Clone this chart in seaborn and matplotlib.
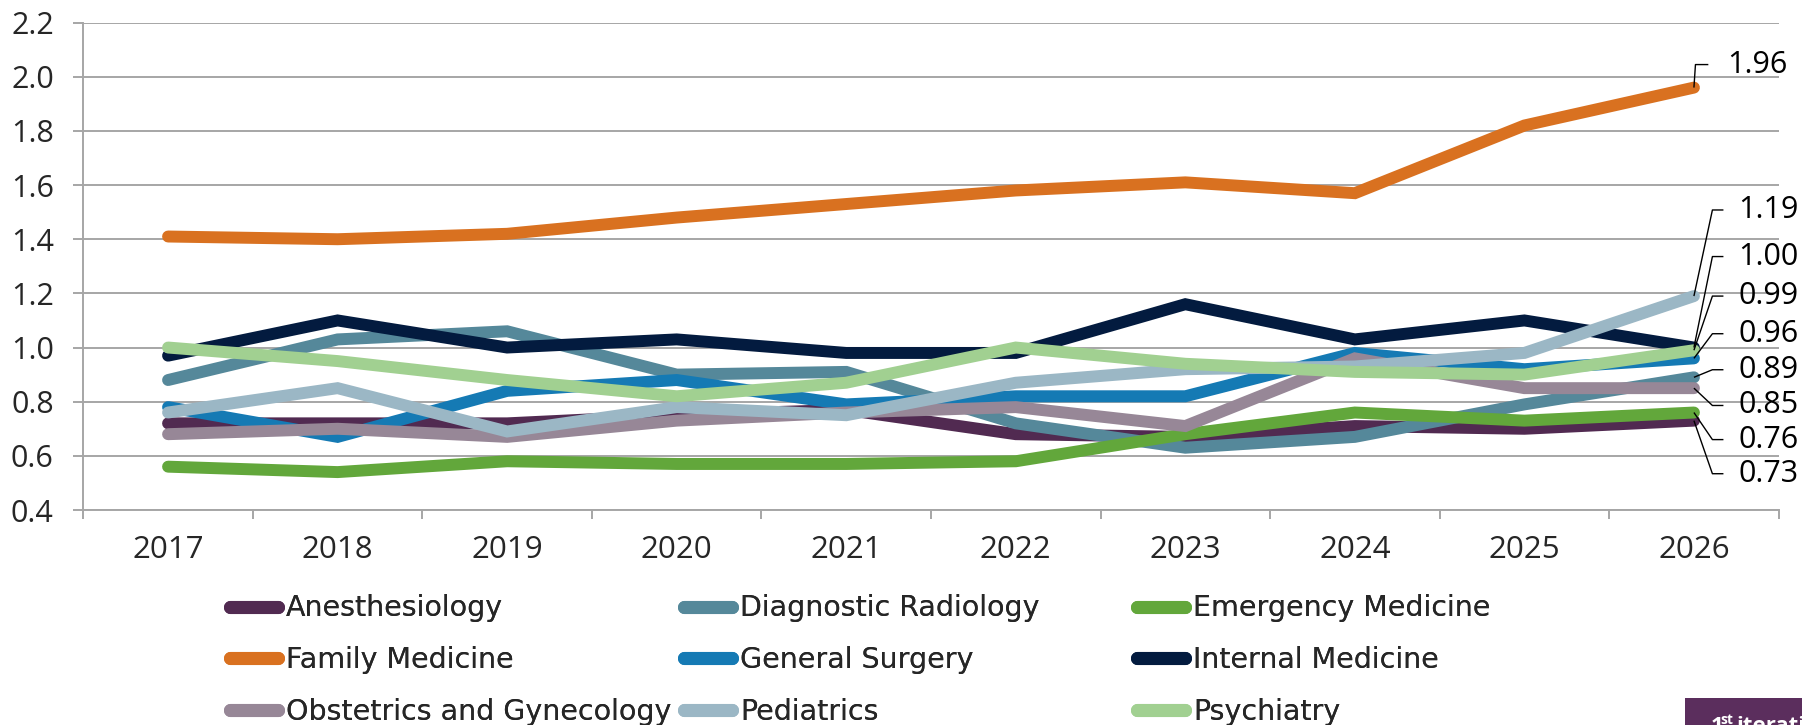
import matplotlib
matplotlib.use("Agg")
import matplotlib.pyplot as plt
import seaborn as sns
import pandas as pd
from matplotlib.lines import Line2D
from matplotlib.patches import Rectangle
from matplotlib.ticker import FixedLocator

# ---------------- data ----------------
years = [2017, 2018, 2019, 2020, 2021, 2022, 2023, 2024, 2025, 2026]
specialties = ["Anesthesiology", "Diagnostic Radiology", "Emergency Medicine",
               "Family Medicine", "General Surgery", "Internal Medicine",
               "Obstetrics and Gynecology", "Pediatrics", "Psychiatry"]
anesthesiology = [0.72, 0.72, 0.72, 0.75, 0.77, 0.68, 0.67, 0.71, 0.70, 0.73]
diagnostic_radiology = [0.88, 1.03, 1.06, 0.90, 0.91, 0.72, 0.63, 0.67, 0.79, 0.89]
emergency_medicine = [0.56, 0.54, 0.58, 0.57, 0.57, 0.58, 0.68, 0.76, 0.73, 0.76]
family_medicine = [1.41, 1.40, 1.42, 1.48, 1.53, 1.58, 1.61, 1.57, 1.82, 1.96]
general_surgery = [0.78, 0.67, 0.84, 0.88, 0.79, 0.82, 0.82, 0.98, 0.92, 0.96]
internal_medicine = [0.97, 1.10, 1.00, 1.03, 0.98, 0.98, 1.16, 1.03, 1.10, 1.00]
obstetrics_gynecology = [0.68, 0.70, 0.67, 0.73, 0.76, 0.78, 0.71, 0.96, 0.85, 0.85]
pediatrics = [0.76, 0.85, 0.69, 0.78, 0.75, 0.87, 0.92, 0.93, 0.98, 1.19]
psychiatry = [1.00, 0.95, 0.88, 0.82, 0.87, 1.00, 0.94, 0.91, 0.90, 0.99]
series = [anesthesiology, diagnostic_radiology, emergency_medicine, family_medicine,
          general_surgery, internal_medicine, obstetrics_gynecology, pediatrics, psychiatry]
colors = ["#512a51", "#55889a", "#62a73b", "#d97120", "#157ab4",
          "#031b3f", "#978797", "#9bb7c5", "#a1d091"]
y_ticks = [0.4, 0.6, 0.8, 1.0, 1.2, 1.4, 1.6, 1.8, 2.0, 2.2]

# end-label layout (top to bottom) and label heights
label_order = ["Family Medicine", "Pediatrics", "Internal Medicine", "Psychiatry",
               "General Surgery", "Diagnostic Radiology", "Obstetrics and Gynecology",
               "Emergency Medicine", "Anesthesiology"]
label_y = [2.045, 1.508, 1.336, 1.19, 1.051, 0.918, 0.786, 0.66, 0.534]

# ---------------- style ----------------
sns.set_style("white")
plt.rcParams["font.family"] = ["Open Sans", "DejaVu Sans"]
GRID = "#a6a6a6"

W, H = 1802, 725
fig = plt.figure(figsize=(W / 100, H / 100), dpi=100)
ax = fig.add_axes([83.3 / W, 1 - 510 / H, (1778.7 - 83.3) / W, (510 - 22.6) / H])

rows = []
for name, vals in zip(specialties, series):
    for yr, v in zip(years, vals):
        rows.append({"year": yr, "value": v, "specialty": name})
df = pd.DataFrame(rows)

palette = dict(zip(specialties, colors))
sns.lineplot(data=df, x="year", y="value", hue="specialty", hue_order=specialties,
             palette=palette, linewidth=8.6, legend=False, ax=ax,
             estimator=None, sort=False)
for ln in ax.lines:
    ln.set_solid_capstyle("round")
    ln.set_solid_joinstyle("miter")

ax.set_xlim(years[0] - 0.5, years[-1] + 0.5)
ax.set_ylim(y_ticks[0], y_ticks[-1])
ax.set_xlabel("")
ax.set_ylabel("")

ax.set_yticks(y_ticks)
ax.set_yticklabels([f"{t:.1f}" for t in y_ticks])
ax.set_xticks(years)
ax.set_xticklabels([str(y) for y in years])
ax.xaxis.set_minor_locator(FixedLocator([y - 0.5 for y in years] + [years[-1] + 0.5]))

ax.yaxis.grid(True, color=GRID, linewidth=1.4)
ax.xaxis.grid(False)
ax.set_axisbelow(True)
for s in ["top", "right"]:
    ax.spines[s].set_visible(False)
for s in ["left", "bottom"]:
    ax.spines[s].set_color(GRID)
    ax.spines[s].set_linewidth(1.4)

ax.tick_params(axis="y", which="major", length=7.2, width=1.4, color=GRID,
               labelsize=22, pad=14, left=True)
ax.tick_params(axis="x", which="major", length=0, labelsize=22.5, pad=18, bottom=True)
ax.tick_params(axis="x", which="minor", length=6.5, width=1.4, color=GRID, bottom=True)

# ---------------- end labels ----------------
last = {name: vals[-1] for name, vals in zip(specialties, series)}
x_end = years[-1]
for name, ly in zip(label_order, label_y):
    v = last[name]
    if name == "Family Medicine":
        ex, hx, tx = x_end + 0.009, x_end + 0.085, x_end + 0.198
    else:
        ex, hx, tx = x_end + 0.109, x_end + 0.174, x_end + 0.263
    ax.plot([x_end, ex, hx], [v, ly, ly], color="black", linewidth=1.0,
            clip_on=False, zorder=10, solid_capstyle="butt")
    ax.text(tx, ly, f"{v:.2f}", ha="left", va="center", fontsize=22,
            color="black", zorder=11, clip_on=False)

# ---------------- legend (3 columns, Excel-like grid) ----------------
handles = {name: Line2D([], [], color=c, linewidth=9.4, solid_capstyle="round")
           for name, c in zip(specialties, colors)}
col_x = [229.5, 683.5, 1136.5]
for ci, cx in enumerate(col_x):
    names = specialties[ci::3]
    leg = fig.legend([handles[n] for n in names], names, loc="upper left",
                     bbox_to_anchor=(cx / W, 1 - 594.5 / H), bbox_transform=fig.transFigure,
                     frameon=False, borderpad=0, borderaxespad=0,
                     prop={"family": "DejaVu Sans", "size": 20.5},
                     handlelength=1.72, handletextpad=0.26, labelspacing=0.835,
                     ncol=1)
    fig.add_artist(leg)

# ---------------- corner badge ----------------
fig.patches.append(Rectangle((1685 / W, 0), (W - 1685) / W, (H - 698) / H,
                             transform=fig.transFigure, facecolor="#5b2e5d",
                             edgecolor="none", zorder=5))
fig.text(1711 / W, 1 - 716 / H, "1", color="white", fontsize=16, fontweight="bold",
         ha="left", va="top", zorder=6)
fig.text(1720 / W, 1 - 713 / H, "st", color="white", fontsize=10, fontweight="bold",
         ha="left", va="top", zorder=6)
fig.text(1736 / W, 1 - 716 / H, "iteration", color="white", fontsize=16,
         fontweight="bold", ha="left", va="top", zorder=6)

fig.savefig("out.png", dpi=100)
